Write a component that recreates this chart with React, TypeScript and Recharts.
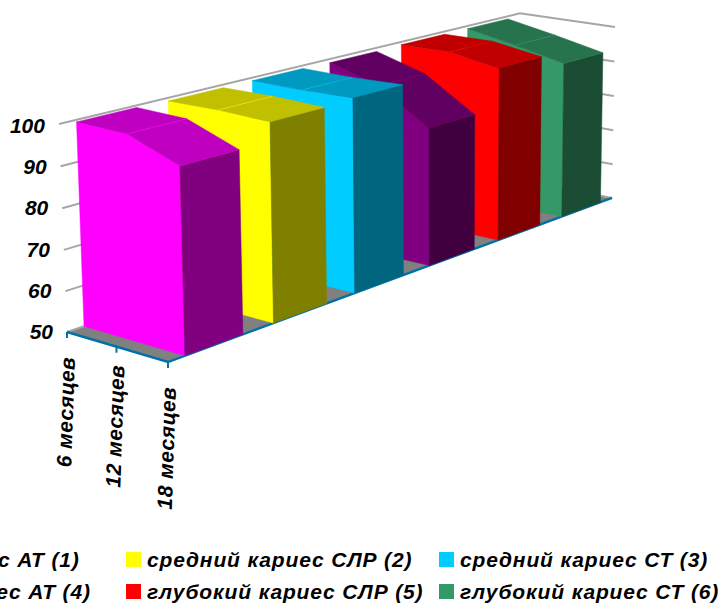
import React from 'react';
import { ScatterChart, XAxis, YAxis, Scatter, Legend } from 'recharts';

const WIDTH = 722;
const HEIGHT = 604;
const FONT = '"Liberation Sans", Arial, sans-serif';

const months = ['6 месяцев', '12 месяцев', '18 месяцев'];
const valueTicks = [50, 60, 70, 80, 90, 100];

const seriesNames = [
  'средний кариес АТ (1)',
  'средний кариес СЛР (2)',
  'средний кариес СТ (3)',
  'глубокий кариес АТ (4)',
  'глубокий кариес СЛР (5)',
  'глубокий кариес СТ (6)',
];

const caries1 = [99.5, 99.2, 94.4];
const caries2 = [99.2, 99.4, 99.0];
const caries3 = [99.2, 99.1, 99.5];
const caries4 = [99.0, 95.1, 86.4];
const caries5 = [99.2, 99.3, 97.1];
const caries6 = [99.2, 96.5, 93.5];
const seriesValues = [caries1, caries2, caries3, caries4, caries5, caries6];

const frontColors = ['#ff00ff', '#ffff00', '#00ccff', '#800080', '#ff0000', '#339966'];
const topColors = ['#c000c0', '#c0c000', '#0099bf', '#600060', '#c00000', '#26734d'];
const sideColors = ['#800080', '#808000', '#006680', '#400040', '#800000', '#1a4d33'];

const WALL = '#a6a6a6';
const FLOOR = '#808080';
const AXIS_BLUE = '#0070a8';

// Perspective camera: u runs along the time axis, v along the series axis, t up the value axis.
const camera = {
  origin: [67, 332],
  uAxis: [94.45, 15.9],
  vAxis: [590.1, -104.8],
  tAxis: [-9.24, -210.6],
  persp: [-0.039, 0.267, -0.021],
};

type Pt = { x: number; y: number };

const project = (u: number, v: number, t: number): Pt => {
  const w = 1 + camera.persp[0] * u + camera.persp[1] * v + camera.persp[2] * t;
  return {
    x: (camera.origin[0] + camera.uAxis[0] * u + camera.vAxis[0] * v + camera.tAxis[0] * t) / w,
    y: (camera.origin[1] + camera.uAxis[1] * u + camera.vAxis[1] * v + camera.tAxis[1] * t) / w,
  };
};

const VALUE_MIN = 50;
const VALUE_MAX = 100;
const toT = (value: number) => (value - VALUE_MIN) / (VALUE_MAX - VALUE_MIN);
const monthU = (i: number) => i / (months.length - 1);

const SLOT = 0.166;
const BOX_START = 0.03;
const BOX_DEPTH = 0.107;

type Face = { key: string; points: Pt[]; fill: string; stroke: string; strokeWidth: number };

const closed = (pts: Pt[]) => [...pts, pts[0]];

const buildFloor = (): Face[] => [
  {
    key: 'floor',
    points: closed([project(0, 0, 0), project(1, 0, 0), project(1, 1, 0), project(0, 1, 0)]),
    fill: FLOOR,
    stroke: 'none',
    strokeWidth: 0,
  },
];

const buildGrid = (): Face[] =>
  valueTicks.map((tick) => ({
    key: `grid-${tick}`,
    points: [project(0, 0, toT(tick)), project(0, 1, toT(tick)), project(1, 1, toT(tick))],
    fill: 'none',
    stroke: WALL,
    strokeWidth: 2,
  }));

const buildAxisLines = (): Face[] => [
  {
    key: 'axis-line',
    points: [project(0, 0, 0), project(1, 0, 0), project(1, 1, 0)],
    fill: 'none',
    stroke: AXIS_BLUE,
    strokeWidth: 2.4,
  },
  ...months.map((m, i) => {
    const base = project(monthU(i), 0, 0);
    return {
      key: `axis-tick-${m}`,
      points: [base, { x: base.x, y: base.y + 6 }],
      fill: 'none',
      stroke: AXIS_BLUE,
      strokeWidth: 2,
    };
  }),
];

// One extruded area: front, right side, and one top panel per month interval, painted back to front.
const buildSeries = (index: number): Face[] => {
  const values = seriesValues[index];
  const v0 = index * SLOT + BOX_START;
  const v1 = v0 + BOX_DEPTH;
  const last = values.length - 1;
  const tops = (v: number) => values.map((val, i) => project(monthU(i), v, toT(val)));
  const frontTop = tops(v0);
  const backTop = tops(v1);
  const faces: Face[] = [];
  faces.push({
    key: `front-${index}`,
    points: closed([project(0, v0, 0), ...frontTop, project(1, v0, 0)]),
    fill: frontColors[index],
    stroke: frontColors[index],
    strokeWidth: 0.5,
  });
  faces.push({
    key: `side-${index}`,
    points: closed([project(1, v0, 0), frontTop[last], backTop[last], project(1, v1, 0)]),
    fill: sideColors[index],
    stroke: sideColors[index],
    strokeWidth: 0.5,
  });
  for (let i = 0; i < last; i += 1) {
    faces.push({
      key: `top-${index}-${i}`,
      points: closed([frontTop[i], frontTop[i + 1], backTop[i + 1], backTop[i]]),
      fill: topColors[index],
      stroke: topColors[index],
      strokeWidth: 0.5,
    });
  }
  faces.push({
    key: `crease-${index}`,
    points: [frontTop[1], backTop[1]],
    fill: 'none',
    stroke: frontColors[index],
    strokeWidth: 0.5,
  });
  return faces;
};

const faces: Face[] = [
  ...buildFloor(),
  ...buildGrid(),
  ...buildAxisLines(),
  ...seriesNames.map((_, i) => buildSeries(seriesNames.length - 1 - i)).flat(),
];

const NoMarker = () => <g />;

const ValueTick = (props: any) => {
  const value = props.payload.value as number;
  const edge = project(0, 0, toT(value));
  return (
    <text
      x={edge.x - 14}
      y={props.y + 7}
      textAnchor="end"
      fontFamily={FONT}
      fontSize={21}
      fontWeight="bold"
      fontStyle="italic"
      fill="#000"
    >
      {value}
    </text>
  );
};

const monthLabelTops = [357, 365, 387];

// Month names stand on the front floor edge, one anchor per category, read bottom to top.
const monthAnchors = months.map((name, i) => {
  const base = project(monthU(i), 0, 0);
  return { x: base.x + 8, y: monthLabelTops[i], name };
});

const MonthLabel = (props: any) => {
  const { cx, cy, payload } = props;
  return (
    <text
      x={cx}
      y={cy}
      transform={`rotate(-88 ${cx} ${cy})`}
      textAnchor="end"
      fontFamily={FONT}
      fontSize={21}
      letterSpacing={0.5}
      fontWeight="bold"
      fontStyle="italic"
      fill="#000"
    >
      {payload.name}
    </text>
  );
};

const legendColumns = [-188, 126, 439];
const legendRows = [552, 584];

const LegendBlock = () => (
  <div style={{ position: 'absolute', left: 0, top: 0, width: 0, height: 0 }}>
    {seriesNames.map((name, i) => {
      const col = legendColumns[i % 3];
      const row = legendRows[Math.floor(i / 3)];
      return (
        <React.Fragment key={name}>
          <div
            style={{
              position: 'absolute',
              left: col,
              top: row,
              width: 15,
              height: 15,
              background: frontColors[i],
            }}
          />
          <div
            style={{
              position: 'absolute',
              left: col + 21,
              top: row - 4,
              whiteSpace: 'nowrap',
              lineHeight: '23px',
              fontFamily: FONT,
              fontSize: 21,
              letterSpacing: 0.86,
              fontWeight: 'bold',
              fontStyle: 'italic',
              color: '#000',
            }}
          >
            {name}
          </div>
        </React.Fragment>
      );
    })}
  </div>
);

export default function App() {
  return (
    <div style={{ position: 'absolute', left: 0, top: 0, width: WIDTH, height: HEIGHT, overflow: 'hidden' }}>
      <ScatterChart width={WIDTH} height={HEIGHT} margin={{ top: 0, right: 0, bottom: 0, left: 0 }}>
        <XAxis xAxisId={0} dataKey="x" type="number" domain={[0, WIDTH]} hide />
        <YAxis yAxisId={0} dataKey="y" type="number" domain={[0, HEIGHT]} reversed hide />
        <YAxis
          yAxisId="value"
          type="number"
          domain={[-15.9, 130.5]}
          ticks={valueTicks}
          width={60}
          mirror
          axisLine={false}
          tickLine={false}
          tick={ValueTick}
          interval={0}
          allowDataOverflow
        />
        {faces.map((face) => (
          <Scatter
            key={face.key}
            name={face.key}
            data={face.points}
            shape={NoMarker}
            line={{ fill: face.fill, stroke: face.stroke, strokeWidth: face.strokeWidth }}
            lineJointType="linear"
            legendType="none"
            isAnimationActive={false}
          />
        ))}
        <Scatter
          name="months"
          data={monthAnchors}
          shape={MonthLabel}
          legendType="none"
          isAnimationActive={false}
        />
        <Legend
          layout="horizontal"
          align="center"
          verticalAlign="middle"
          content={LegendBlock}
          wrapperStyle={{ left: 0, top: 0, width: 0, height: 0 }}
        />
      </ScatterChart>
    </div>
  );
}
